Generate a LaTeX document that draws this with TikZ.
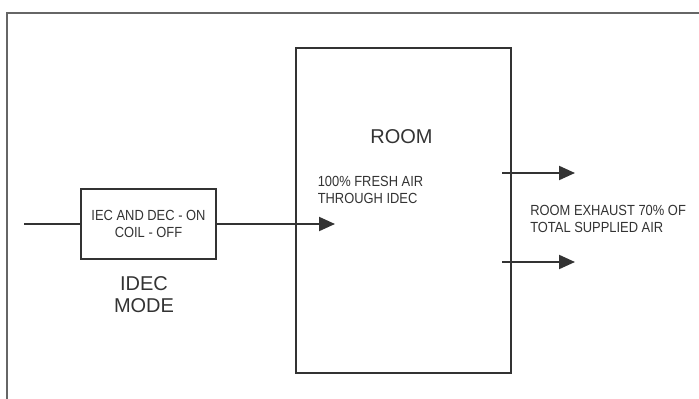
\documentclass[tikz,border=0pt]{standalone}
\usepackage{fontspec}
\setmainfont{Liberation Sans}
\newfontfamily\narrowsans[FakeStretch=0.88]{Liberation Sans}
\usepackage{xcolor}
\usetikzlibrary{arrows.meta, positioning, calc}
\definecolor{boxgray}{HTML}{333333}
\definecolor{framegray}{HTML}{666666}
\tikzset{
  >={Triangle[length=12pt,width=10.5pt]},  % punta piena
  % Blocchi
  block/.style={draw=boxgray,line width=1.5pt,inner sep=0,align=center},
  % Testi
  big label/.style={inner sep=0,align=center,text=boxgray,font=\fontsize{15pt}{16.5pt}\selectfont},
  small label/.style={inner sep=0,text=boxgray,font=\narrowsans\fontsize{11pt}{12.75pt}\selectfont},
  % Flussi d'aria
  flow/.style={draw=boxgray,line width=1.5pt},
  flow arrow/.style={flow,->,boxgray}
}
\begin{document}
\begin{tikzpicture}[x=0.75pt,y=-0.75pt]
    \useasboundingbox (0,0) rectangle (699,399);
    % cornice
    \draw[framegray, line width=1.1pt] (7,405) -- (7,13) -- (705,13);
    % blocchi
    \node[block, minimum width=161.25pt, minimum height=243.75pt] (room) at (403.5,210.5) {};
    \node[block, small label, align=center, draw=boxgray, line width=1.5pt,
          minimum width=101.25pt, minimum height=52.5pt] (idec) at (148.5,224)
          {IEC AND DEC - ON\\COIL - OFF};
    % testi
    \node[big label, anchor=base] (roomlbl) at (401.5,144) {ROOM};
    \node[big label, anchor=north] (mode) at (144,276.6) {IDEC\\MODE};
    \node[small label, anchor=north west, align=left] (fresh) at (317.5,176.1)
          {100\% FRESH AIR\\THROUGH IDEC};
    \node[small label, anchor=north west, align=left] (exhaust) at (530,205.4)
          {ROOM EXHAUST 70\% OF\\TOTAL SUPPLIED AIR};
    % flussi
    \coordinate (inlet) at (24,224);
    \coordinate (supply) at (335,224);
    \coordinate (ex1a) at (502,173);
    \coordinate (ex1b) at (575,173);
    \coordinate (ex2a) at (502,262);
    \coordinate (ex2b) at (575,262);
    \draw[flow] (inlet) -- (idec.west);
    \draw[flow arrow] (idec.east) -- (supply);
    \draw[flow arrow] (ex1a) -- (ex1b);
    \draw[flow arrow] (ex2a) -- (ex2b);
\end{tikzpicture}
\end{document}
